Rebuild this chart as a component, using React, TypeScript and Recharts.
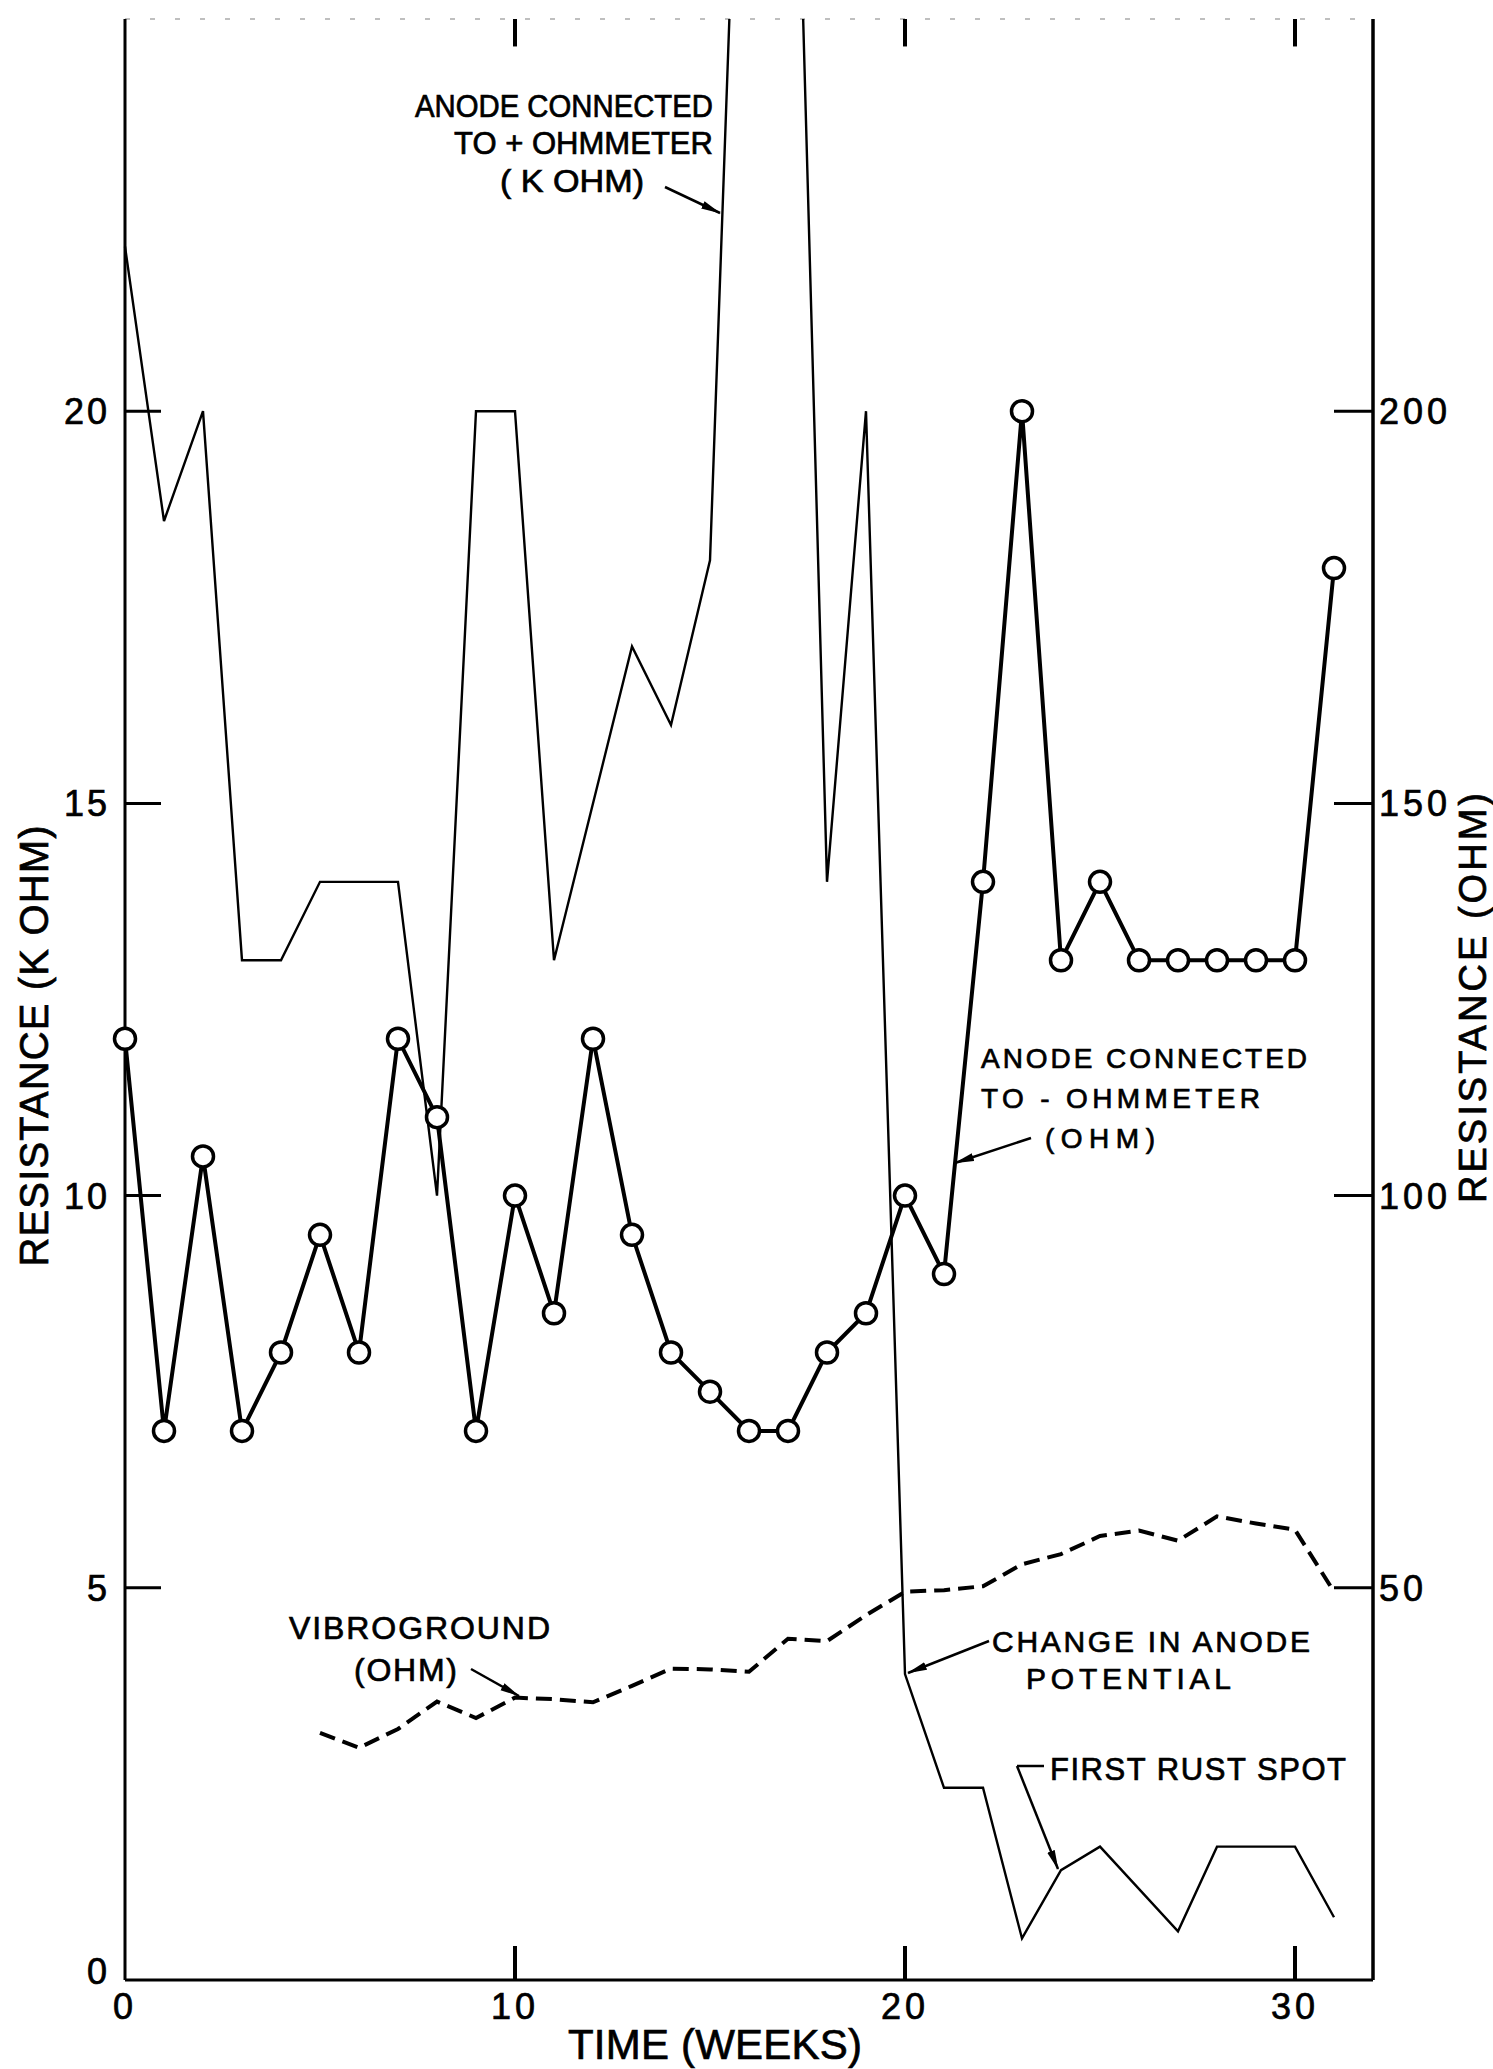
import React from 'react';
import { LineChart, Line, XAxis, YAxis, ReferenceLine } from 'recharts';

// weekly readings
const weeks = [0, 1, 2, 3, 4, 5, 6, 7, 8, 9, 10, 11, 12, 13, 14, 15, 16, 17, 18, 19, 20, 21, 22, 23, 24, 25, 26, 27, 28, 29, 30, 31];

// anode connected to + ohmmeter (k ohm), left axis. 16/17 run off the top of the chart
const plusOhmmeterKohm = [22.1, 18.6, 20, 13, 13, 14, 14, 14, 10, 20, 20, 13, null, 17, 16, 18.1, 32, 32, 14, 20, 3.9, 2.45, 2.45, 0.53, 1.4, 1.7, null, 0.62, 1.7, 1.7, 1.7, 0.8];

// anode connected to - ohmmeter (ohm), right axis
const minusOhmmeterOhm = [120, 70, 105, 70, 80, 95, 80, 120, 110, 70, 100, 85, 120, 95, 80, 75, 70, 70, 80, 85, 100, 90, 140, 200, 130, 140, 130, 130, 130, 130, 130, 180];

// vibroground (ohm), right axis
const vibrogroundOhm = [null, null, null, null, null, 31.5, 29.6, 32, 35.5, 33.4, 36, 35.8, 35.4, 37.5, 39.7, 39.6, 39.3, 43.5, 43.2, 46.5, 49.5, 49.7, 50.2, 53, 54.3, 56.6, 57.3, 56, 59.1, 58.2, 57.4, 49.5];

const xTicks = [0, 10, 20, 30];
const topTicks = [10, 20, 30];
const leftTicks = [0, 5, 10, 15, 20];
const rightTicks = [50, 100, 150, 200];

const data = weeks.map((w, i) => ({
  week: w,
  plus: plusOhmmeterKohm[i],
  minus: minusOhmmeterOhm[i],
  vibro: vibrogroundOhm[i],
}));

const FONT = '"Liberation Sans", Arial, sans-serif';
// a bit of outline so the lettering looks as heavy as the original
const ink = { fontFamily: FONT, fill: '#000', stroke: '#000', strokeWidth: 0.7 };

const LeftTick = (props: any) => {
  const { x, y, payload } = props;
  const v = payload.value;
  return (
    <g>
      {v !== 0 && <line x1={x} y1={y} x2={x + 36} y2={y} stroke="#000" strokeWidth={3} />}
      <text {...ink} x={x - 15} y={v === 0 ? y - 9 : y} dy="0.36em" textAnchor="end" fontSize={36} letterSpacing={3}>
        {v}
      </text>
    </g>
  );
};

const RightTick = (props: any) => {
  const { x, y, payload } = props;
  return (
    <g>
      <line x1={x - 39} y1={y} x2={x} y2={y} stroke="#000" strokeWidth={3} />
      <text {...ink} x={x + 6} y={y} dy="0.36em" textAnchor="start" fontSize={36} letterSpacing={4}>
        {payload.value}
      </text>
    </g>
  );
};

const BottomTick = (props: any) => {
  const { x, y, payload } = props;
  const v = payload.value;
  return (
    <g>
      {v !== 0 && <line x1={x} y1={y} x2={x} y2={y - 34} stroke="#000" strokeWidth={4} />}
      <text {...ink} x={x} y={y + 26} dy="0.36em" textAnchor="middle" fontSize={36} letterSpacing={4}>
        {v}
      </text>
    </g>
  );
};

function Annotations() {
  const t = ink;
  return (
    <svg width={1493} height={2069} style={{ position: 'absolute', left: 0, top: 0, pointerEvents: 'none' }}>
      <defs>
        <marker id="arrow" viewBox="0 0 20 10" refX="19" refY="5" markerWidth="20" markerHeight="10" markerUnits="userSpaceOnUse" orient="auto">
          <path d="M0,1 L20,5 L0,9 Z" fill="#000" />
        </marker>
      </defs>

      {/* axis titles */}
      <text {...t} x={34} y={1046} dy="0.36em" textAnchor="middle" fontSize={40} textLength={441} transform="rotate(-90 34 1046)">
        RESISTANCE (K OHM)
      </text>
      <text {...t} x={1472} y={998} dy="0.36em" textAnchor="middle" fontSize={38} textLength={410} transform="rotate(-90 1472 998)">
        RESISTANCE (OHM)
      </text>
      <text {...t} x={568} y={2059} fontSize={42} textLength={294}>
        TIME (WEEKS)
      </text>

      {/* anode + ohmmeter */}
      <text {...t} x={415} y={117} fontSize={31} textLength={298} lengthAdjust="spacingAndGlyphs">ANODE CONNECTED</text>
      <text {...t} x={454} y={154} fontSize={31} textLength={259} lengthAdjust="spacingAndGlyphs">TO + OHMMETER</text>
      <text {...t} x={500} y={192} fontSize={31} textLength={144} lengthAdjust="spacingAndGlyphs">( K OHM)</text>
      <line x1={665} y1={187} x2={720} y2={213} stroke="#000" strokeWidth={2.5} markerEnd="url(#arrow)" />

      {/* anode - ohmmeter */}
      <text {...t} x={981} y={1068} fontSize={28} textLength={326} lengthAdjust="spacing">ANODE CONNECTED</text>
      <text {...t} x={981} y={1108} fontSize={28} textLength={279} lengthAdjust="spacing">TO - OHMMETER</text>
      <text {...t} x={1045} y={1148} fontSize={28} textLength={110} lengthAdjust="spacing">(OHM)</text>
      <line x1={1031} y1={1138} x2={955} y2={1163} stroke="#000" strokeWidth={2.5} markerEnd="url(#arrow)" />

      {/* vibroground */}
      <text {...t} x={289} y={1639} fontSize={32} textLength={261} lengthAdjust="spacing">VIBROGROUND</text>
      <text {...t} x={354} y={1681} fontSize={32} textLength={103} lengthAdjust="spacing">(OHM)</text>
      <line x1={471} y1={1669} x2={519} y2={1696} stroke="#000" strokeWidth={2.5} markerEnd="url(#arrow)" />

      {/* change in anode potential */}
      <text {...t} x={992} y={1652} fontSize={30} textLength={318} lengthAdjust="spacing">CHANGE IN ANODE</text>
      <text {...t} x={1026} y={1689} fontSize={30} textLength={205} lengthAdjust="spacing">POTENTIAL</text>
      <line x1={989} y1={1641} x2={908} y2={1673} stroke="#000" strokeWidth={2.5} markerEnd="url(#arrow)" />

      {/* first rust spot */}
      <text {...t} x={1050} y={1780} fontSize={31} textLength={296} lengthAdjust="spacing">FIRST RUST SPOT</text>
      <line x1={1017} y1={1766} x2={1044} y2={1766} stroke="#000" strokeWidth={2.5} />
      <line x1={1017} y1={1766} x2={1058} y2={1869} stroke="#000" strokeWidth={2.5} markerEnd="url(#arrow)" />
    </svg>
  );
}

export default function App() {
  return (
    <div style={{ position: 'absolute', left: 0, top: 0, width: 1493, height: 2069, background: '#fff', overflow: 'hidden' }}>
      <LineChart width={1493} height={2069} data={data} margin={{ top: 19, right: 0, bottom: 0, left: 0 }}>
        <XAxis
          xAxisId="b"
          type="number"
          dataKey="week"
          domain={[0, 32]}
          ticks={xTicks}
          interval={0}
          height={89}
          tickSize={0}
          tickMargin={0}
          tickLine={false}
          axisLine={{ stroke: '#000', strokeWidth: 3 }}
          tick={<BottomTick />}
        />
        <YAxis
          yAxisId="left"
          domain={[0, 25]}
          ticks={leftTicks}
          interval={0}
          allowDataOverflow
          width={125}
          tickSize={0}
          tickMargin={0}
          tickLine={false}
          axisLine={{ stroke: '#000', strokeWidth: 3 }}
          tick={<LeftTick />}
        />
        <YAxis
          yAxisId="right"
          orientation="right"
          domain={[0, 250]}
          ticks={rightTicks}
          interval={0}
          allowDataOverflow
          width={120}
          tickSize={0}
          tickMargin={0}
          tickLine={false}
          axisLine={{ stroke: '#000', strokeWidth: 3.5 }}
          tick={<RightTick />}
        />

        {/* faint top frame and its ticks */}
        <ReferenceLine xAxisId="b" yAxisId="left" y={25} stroke="#aaa" strokeWidth={1.5} strokeDasharray="5 20" />
        {topTicks.map((w) => (
          <ReferenceLine
            key={w}
            xAxisId="b"
            yAxisId="left"
            segment={[{ x: w, y: 25 }, { x: w, y: 24.65 }]}
            stroke="#000"
            strokeWidth={4}
          />
        ))}

        <Line
          xAxisId="b"
          yAxisId="left"
          type="linear"
          dataKey="plus"
          stroke="#000"
          strokeWidth={2.4}
          dot={false}
          activeDot={false}
          connectNulls
          isAnimationActive={false}
        />
        <Line
          xAxisId="b"
          yAxisId="right"
          type="linear"
          dataKey="vibro"
          stroke="#000"
          strokeWidth={4}
          strokeDasharray="16 8"
          dot={false}
          activeDot={false}
          isAnimationActive={false}
        />
        <Line
          xAxisId="b"
          yAxisId="right"
          type="linear"
          dataKey="minus"
          stroke="#000"
          strokeWidth={4}
          dot={{ r: 10.5, fill: '#fff', stroke: '#000', strokeWidth: 3.5 }}
          activeDot={false}
          isAnimationActive={false}
        />
      </LineChart>
      <Annotations />
    </div>
  );
}
